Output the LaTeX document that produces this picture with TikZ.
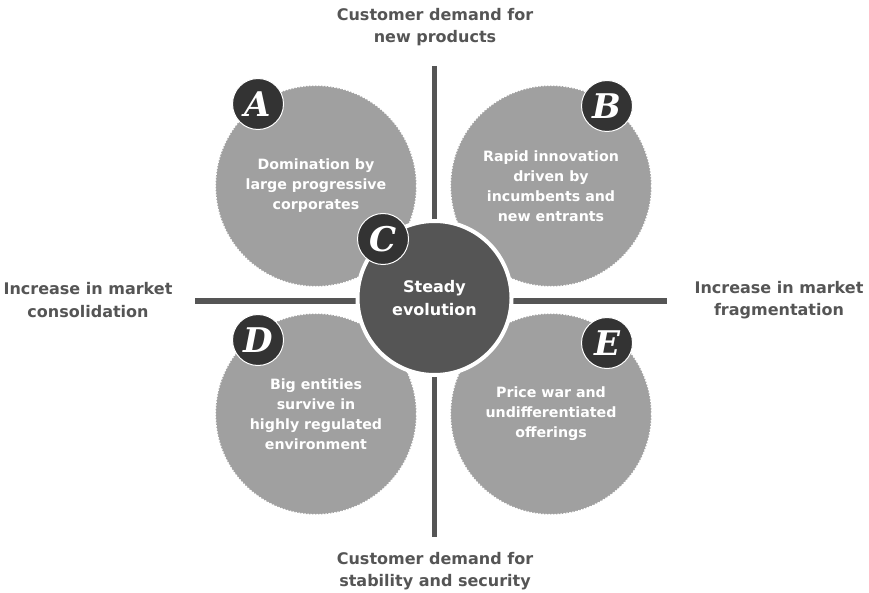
\documentclass[tikz,border=0pt]{standalone}
\usepackage{fontspec}
\setmainfont{DejaVu Sans}
\newfontfamily\letterfont{DejaVu Serif}
\usetikzlibrary{positioning}
\definecolor{axisgray}{HTML}{555555}
\definecolor{quadgray}{HTML}{A0A0A0}
\definecolor{badgegray}{HTML}{333333}
\tikzset{
    axis/.style={draw=axisgray, line width=5.5pt},
    axislabel/.style={text=axisgray, align=center, font=\bfseries\fontsize{16}{22.5}\selectfont},
    quadrant/.style={circle, fill=quadgray, draw=white, line width=1.2pt,
        dash pattern=on 1.5pt off 1.5pt, minimum size=201pt, inner sep=0pt,
        text=white, align=center, font=\bfseries\fontsize{14.2}{20}\selectfont},
    hub/.style={circle, fill=axisgray, draw=white, line width=4pt,
        minimum size=154pt, inner sep=0pt,
        text=white, align=center, font=\bfseries\fontsize{16}{23}\selectfont},
    badge/.style={circle, fill=badgegray, draw=white, line width=1pt,
        minimum size=51pt, inner sep=0pt, text=white,
        font=\letterfont\bfseries\itshape\fontsize{34}{34}\selectfont}
}
\begin{document}
\begin{tikzpicture}[x=1pt, y=-1pt]
    \useasboundingbox (0, 0) rectangle (869, 593);
    % axes
    \coordinate (axis top) at (434.5, 66);
    \coordinate (axis bottom) at (434.5, 537);
    \coordinate (axis left) at (195, 301);
    \coordinate (axis right) at (667, 301);
    \draw[axis] (axis top) -- (axis bottom);
    \draw[axis] (axis left) -- (axis right);
    % axis labels
    \node[axislabel] (label top) at (435, 27) {Customer demand for\\new products};
    \node[axislabel] (label bottom) at (435, 571) {Customer demand for\\stability and security};
    \node[axislabel] (label left) at (88, 300) {Increase in market\\consolidation};
    \node[axislabel] (label right) at (779, 300) {Increase in market\\fragmentation};
    % quadrants
    \node[quadrant] (quad A) at (316, 186) {Domination by\\large progressive\\corporates};
    \node[quadrant] (quad B) at (551, 186) {Rapid innovation\\driven by\\incumbents and\\new entrants};
    \node[quadrant] (quad D) at (316, 414) {Big entities\\survive in\\highly regulated\\environment};
    \node[quadrant] (quad E) at (551, 414) {Price war and\\undifferentiated\\offerings};
    \node[hub] (hub) at (434.5, 298) {Steady\\evolution};
    % letters
    \node[badge] (badge A) at (258, 104) {A};
    \node[badge] (badge B) at (607, 106) {B};
    \node[badge] (badge C) at (383, 239) {C};
    \node[badge] (badge D) at (258, 340) {D};
    \node[badge] (badge E) at (607, 343) {E};
\end{tikzpicture}
\end{document}
